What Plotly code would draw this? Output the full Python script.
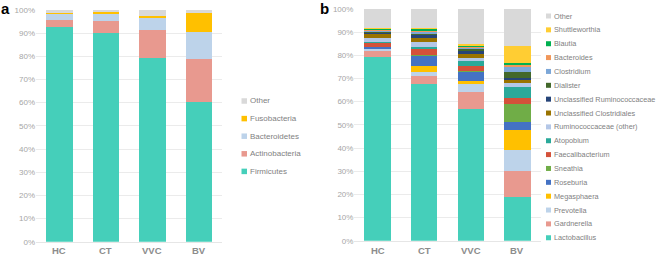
import plotly.graph_objects as go

W, H = 656, 255

groups = ["HC", "CT", "VVC", "BV"]

# Panel a: phyla (bottom to top)
phyla = ["Firmicutes", "Actinobacteria", "Bacteroidetes", "Fusobacteria", "Other"]
phyla_values = {
    "Firmicutes":     [92.5, 89.9, 79.2, 60.4],
    "Actinobacteria": [3.2, 5.5, 12.2, 18.5],
    "Bacteroidetes":  [2.6, 3.2, 5.3, 11.6],
    "Fusobacteria":   [0.3, 0.4, 0.7, 8.1],
    "Other":          [1.4, 1.0, 2.6, 1.4],
}
phyla_colors = ["#45CFBA", "#E8998F", "#BDD3EA", "#FFC000", "#D9D9D9"]

# Panel b: genera (bottom to top)
genera = ["Lactobacillus", "Gardnerella", "Prevotella", "Megasphaera", "Roseburia",
          "Sneathia", "Faecalibacterium", "Atopobium", "Ruminococcaceae (other)",
          "Unclassified Clostridiales", "Unclassified Ruminococcaceae", "Dialister",
          "Clostridium", "Bacteroides", "Blautia", "Shuttleworthia", "Other"]
genera_values = {
    "Lactobacillus":               [79.2, 67.6, 56.7, 18.7],
    "Gardnerella":                 [2.6, 3.5, 7.6, 11.5],
    "Prevotella":                  [1.0, 1.8, 3.5, 8.9],
    "Megasphaera":                 [0.2, 2.6, 1.2, 8.7],
    "Roseburia":                   [0.7, 4.6, 3.9, 3.4],
    "Sneathia":                    [0.1, 0.1, 0.3, 7.9],
    "Faecalibacterium":            [1.7, 2.8, 2.2, 2.3],
    "Atopobium":                   [0.4, 0.7, 2.0, 4.9],
    "Ruminococcaceae (other)":     [1.4, 2.2, 1.6, 1.6],
    "Unclassified Clostridiales":  [1.7, 1.5, 1.5, 1.7],
    "Unclassified Ruminococcaceae": [1.0, 1.7, 1.5, 0.7],
    "Dialister":                   [0.4, 0.4, 0.8, 2.4],
    "Clostridium":                 [0.3, 0.6, 0.4, 2.2],
    "Bacteroides":                 [0.5, 0.8, 0.6, 1.0],
    "Blautia":                     [0.4, 0.7, 0.5, 0.8],
    "Shuttleworthia":              [0.1, 0.1, 0.5, 7.3],
    "Other":                       [8.3, 8.3, 15.2, 16.0],
}
genera_colors = ["#45CFBA", "#E8998F", "#BDD3EA", "#FFC000", "#4472C4",
                 "#70AD47", "#D4513A", "#2AA99A", "#B4C7E7",
                 "#997300", "#264478", "#43682B",
                 "#7CA7D8", "#F1975A", "#00B050", "#FFCD33", "#D9D9D9"]

pct_ticks = list(range(0, 101, 10))
pct_labels = [f"{t}%" for t in pct_ticks]

fig = go.Figure()

for name, col in zip(phyla, phyla_colors):
    fig.add_trace(go.Bar(x=groups, y=phyla_values[name], name=name,
                         marker=dict(color=col, line=dict(width=0)),
                         xaxis="x", yaxis="y", showlegend=False))
for name, col in zip(genera, genera_colors):
    fig.add_trace(go.Bar(x=groups, y=genera_values[name], name=name,
                         marker=dict(color=col, line=dict(width=0)),
                         xaxis="x2", yaxis="y2", showlegend=False))

def px_x(p):
    return p / W

def px_y(p):
    return 1 - p / H

axis_common_y = dict(range=[0, 100], tickvals=pct_ticks, ticktext=pct_labels,
                     showgrid=True, gridcolor="#EBEBEB", gridwidth=1,
                     zeroline=False, showline=False, ticks="", automargin=False,
                     tickfont=dict(family="Liberation Sans", size=8, color="#A6A6A6"),
                     fixedrange=True)
axis_common_x = dict(showgrid=False, zeroline=False, showline=True,
                     linecolor="#E6E6E6", linewidth=1, ticks="", automargin=False,
                     showticklabels=False, fixedrange=True)

fig.update_layout(
    template="none",
    width=W, height=H,
    margin=dict(l=0, r=0, t=0, b=0, autoexpand=False),
    paper_bgcolor="white", plot_bgcolor="white",
    barmode="stack", bargap=0.43,
    showlegend=False,
    xaxis=dict(domain=[px_x(36), px_x(222)], anchor="y", **axis_common_x),
    yaxis=dict(domain=[px_y(241.7), px_y(10)], anchor="x", **axis_common_y),
    xaxis2=dict(domain=[px_x(354.4), px_x(540.6)], anchor="y2", **axis_common_x),
    yaxis2=dict(domain=[px_y(240.7), px_y(9)], anchor="x2", **axis_common_y),
)

annotations = []
shapes = []

# Category labels under each panel
for xr in ["x", "x2"]:
    for g in groups:
        annotations.append(dict(text=f"<b>{g}</b>", x=g, y=px_y(250), xref=xr, yref="paper",
                                xanchor="center", yanchor="middle", showarrow=False,
                                font=dict(family="Liberation Sans", size=9.5, color="#8C8C8C")))

# Panel labels
annotations.append(dict(text="<b>a</b>", x=px_x(-1), y=px_y(-2), xref="paper", yref="paper",
                        xanchor="left", yanchor="top", showarrow=False,
                        font=dict(family="Liberation Sans", size=15, color="black")))
annotations.append(dict(text="<b>b</b>", x=px_x(318), y=px_y(-2), xref="paper", yref="paper",
                        xanchor="left", yanchor="top", showarrow=False,
                        font=dict(family="Liberation Sans", size=15, color="black")))

def add_legend(names, colors, x_sq, y_first, step, sq, fsize):
    # listed top to bottom in reverse stacking order
    for i, (name, col) in enumerate(zip(reversed(names), reversed(colors))):
        yc = y_first + i * step
        shapes.append(dict(type="rect", xref="paper", yref="paper",
                           x0=px_x(x_sq), x1=px_x(x_sq + sq),
                           y0=px_y(yc + sq / 2), y1=px_y(yc - sq / 2),
                           fillcolor=col, line=dict(width=0)))
        annotations.append(dict(text=name, x=px_x(x_sq + sq + 1), y=px_y(yc),
                                xref="paper", yref="paper", xanchor="left", yanchor="middle",
                                showarrow=False,
                                font=dict(family="Liberation Sans", size=fsize, color="#7F7F7F")))

add_legend(phyla, phyla_colors, 241.5, 101, 17.6, 5.5, 8)
add_legend(genera, genera_colors, 546, 16, 13.86, 5, 7.3)

fig.update_layout(annotations=annotations, shapes=shapes)

fig.write_html("out.html", config={"displayModeBar": False},
               post_script="document.body.style.margin='0';document.body.style.padding='0';")
